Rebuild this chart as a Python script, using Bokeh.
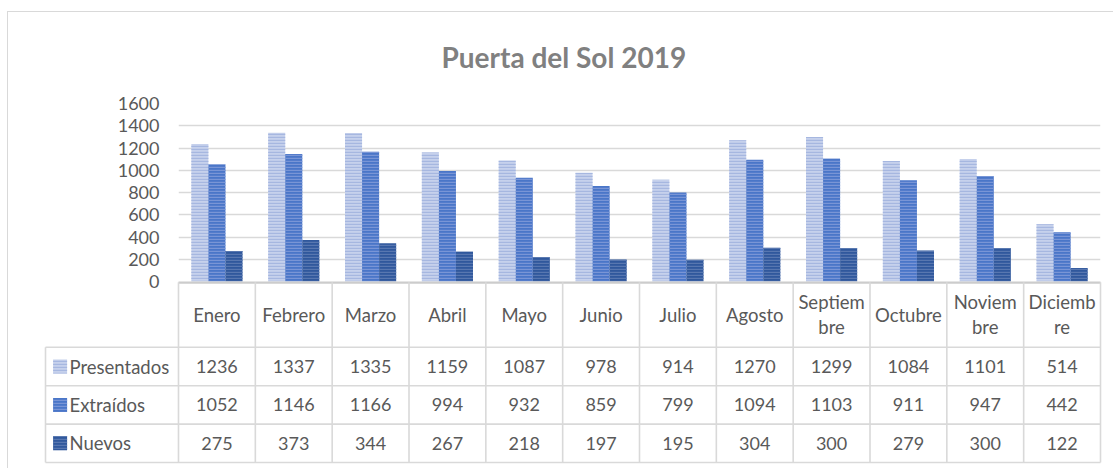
from bokeh.plotting import figure
from bokeh.models import Range1d, FixedTicker, ColumnDataSource
from bokeh.layouts import column
from bokeh.transform import dodge
from bokeh.embed import file_html
from bokeh.resources import INLINE
from bokeh.core.properties import value

# ---------------- data ----------------
TITLE = "Puerta del Sol 2019"
MONTHS = ["Enero", "Febrero", "Marzo", "Abril", "Mayo", "Junio", "Julio",
          "Agosto", "Septiem\nbre", "Octubre", "Noviem\nbre", "Diciemb\nre"]
SERIES = ["Presentados", "Extraídos", "Nuevos"]
PRESENTADOS = [1236, 1337, 1335, 1159, 1087, 978, 914, 1270, 1299, 1084, 1101, 514]
EXTRAIDOS = [1052, 1146, 1166, 994, 932, 859, 799, 1094, 1103, 911, 947, 442]
NUEVOS = [275, 373, 344, 267, 218, 197, 195, 304, 300, 279, 300, 122]
Y_TICKS = [0, 200, 400, 600, 800, 1000, 1200, 1400, 1600]

# ---------------- style ----------------
FILL = ["#c6d1ec", "#4a76c8", "#30589c"]
HATCH = ["#a6b7e0", "#7995d6", "#5877b0"]
TXT = "#595959"
FONT = "Lato"
GRID = "#d9d9d9"
BW = 0.222          # bar width in category units
LEFT = 1.731        # width of the legend column in category units
HDR = 65.0          # header row height (table units = px)
ROW = 38.4          # data row height
PX = 1 / 76.83      # one pixel in category units
OVER = 12           # overlap between chart and table figures (px)

data = [PRESENTADOS, EXTRAIDOS, NUEVOS]
xs = list(range(len(MONTHS)))

# ---------------- bar chart ----------------
p = figure(width=1105, height=269 + OVER, x_range=Range1d(-0.5, len(MONTHS) - 0.5),
           y_range=Range1d(0, 1600), output_backend="svg", toolbar_location=None,
           min_border_left=170, min_border_right=13, min_border_top=91,
           min_border_bottom=OVER, frame_align=False)
p.outline_line_color = None
p.xaxis.visible = False
p.xgrid.visible = False
p.ygrid.ticker = FixedTicker(ticks=Y_TICKS)
p.ygrid.grid_line_color = GRID
p.ygrid.grid_line_width = 1.5
p.yaxis.ticker = FixedTicker(ticks=Y_TICKS)
p.yaxis.axis_line_color = None
p.yaxis.major_tick_line_color = None
p.yaxis.minor_tick_line_color = None
p.yaxis.major_tick_out = 0
p.yaxis.minor_tick_out = 0
p.yaxis.major_label_standoff = 19
p.yaxis.major_label_text_font = FONT
p.yaxis.major_label_text_font_size = "18px"
p.yaxis.major_label_text_color = TXT

p.title.text = TITLE
p.title.align = "left"
p.title.offset = 263
p.title.vertical_align = "top"
p.title.standoff = 55
p.title.text_font = "Lato"
p.title.text_font_style = "bold"
p.title.text_font_size = "28px"
p.title.text_color = "#808080"

src = ColumnDataSource(dict(x=xs, p=PRESENTADOS, e=EXTRAIDOS, n=NUEVOS))
for k, col in enumerate(["p", "e", "n"]):
    p.vbar(x=dodge("x", (k - 1) * BW, range=p.x_range), top=col, width=BW, source=src,
           fill_color=FILL[k], line_color=None,
           hatch_pattern="horizontal_line", hatch_color=HATCH[k],
           hatch_scale=3, hatch_weight=1.4)

# ---------------- data table ----------------
n = len(MONTHS)
x0 = -0.5 - LEFT
x1 = n - 0.5
total = HDR + 3 * ROW
t = figure(width=1105, height=187, x_range=Range1d(x0 - 2 * PX, x1 + 2 * PX),
           y_range=Range1d(186.2, -0.8), output_backend="svg", toolbar_location=None,
           min_border_left=35, min_border_right=11, min_border_top=0, min_border_bottom=0,
           frame_align=False, styles={"margin-top": "-%dpx" % OVER})
t.background_fill_color = None
t.border_fill_color = None
t.outline_line_color = None
t.axis.visible = False
t.grid.visible = False

# borders
t.segment(x0=[-0.5], y0=[0], x1=[x1], y1=[0], line_color="#cccccc", line_width=3)
hy = [HDR + ROW * r for r in range(4)]
t.segment(x0=[x0] * 4, y0=hy, x1=[x1] * 4, y1=hy, line_color=GRID, line_width=1.6)
t.segment(x0=[x0], y0=[HDR], x1=[x0], y1=[total], line_color=GRID, line_width=1.6)
vx = [i - 0.5 for i in range(n + 1)]
t.segment(x0=vx, y0=[0] * len(vx), x1=vx, y1=[total] * len(vx), line_color=GRID, line_width=1.6)

# header
t.text(x=xs, y=[HDR / 2] * n, text=MONTHS, text_align="center", text_baseline="middle",
       text_font=value(FONT), text_font_size="18.5px", text_color=TXT, text_line_height=1.15)

# legend keys and labels
ry = [HDR + ROW * (r + 0.5) for r in range(3)]
for k in range(3):
    t.scatter(x=[x0 + 0.19], y=[ry[k]], marker="square", size=14, fill_color=FILL[k],
              line_color=None, hatch_pattern="horizontal_line", hatch_color=HATCH[k],
              hatch_scale=3, hatch_weight=1.4)
t.text(x=[x0 + 0.312] * 3, y=ry, text=SERIES, text_align="left", text_baseline="middle",
       text_font=value(FONT), text_font_size="18.5px", text_color=TXT)

# values
vx_all, vy_all, vt_all = [], [], []
for k, vals in enumerate(data):
    for i, v in enumerate(vals):
        vx_all.append(i)
        vy_all.append(ry[k])
        vt_all.append(str(v))
t.text(x=vx_all, y=vy_all, text=vt_all, text_align="center", text_baseline="middle",
       text_font=value(FONT), text_font_size="18px", text_color=TXT)

layout = column(p, t, spacing=0,
                styles={"margin-left": "7px", "margin-top": "11px",
                        "border-left": "1px solid #d9d9d9", "border-top": "1px solid #d9d9d9"})
open("out.html", "w").write(file_html(layout, INLINE))
